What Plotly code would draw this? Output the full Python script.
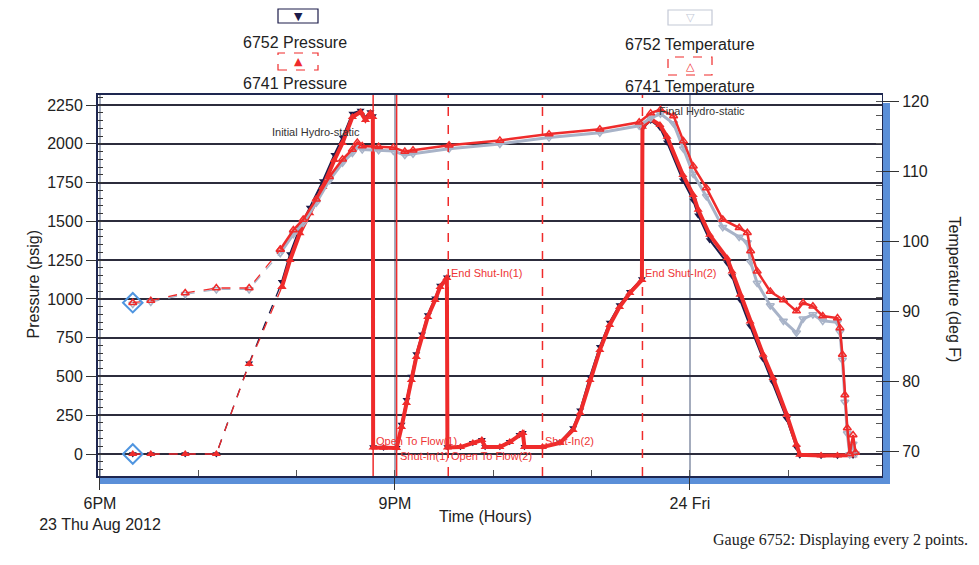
import plotly.graph_objects as go

# ---------------- data ----------------
p_time = [
    "2012-08-23 18:20", "2012-08-23 18:31", "2012-08-23 18:52", "2012-08-23 19:11",
    "2012-08-23 19:31", "2012-08-23 19:51", "2012-08-23 19:56", "2012-08-23 20:02",
    "2012-08-23 20:08", "2012-08-23 20:16", "2012-08-23 20:23", "2012-08-23 20:28",
    "2012-08-23 20:34", "2012-08-23 20:39", "2012-08-23 20:42", "2012-08-23 20:45",
    "2012-08-23 20:46:30", "2012-08-23 20:46:40", "2012-08-23 20:53", "2012-08-23 21:01",
    "2012-08-23 21:04", "2012-08-23 21:07", "2012-08-23 21:10", "2012-08-23 21:13",
    "2012-08-23 21:16:30", "2012-08-23 21:20", "2012-08-23 21:24:30", "2012-08-23 21:27:30",
    "2012-08-23 21:31:40", "2012-08-23 21:32", "2012-08-23 21:40", "2012-08-23 21:47:30",
    "2012-08-23 21:53", "2012-08-23 21:55", "2012-08-23 22:04", "2012-08-23 22:10",
    "2012-08-23 22:16", "2012-08-23 22:18", "2012-08-23 22:19", "2012-08-23 22:30",
    "2012-08-23 22:40:40", "2012-08-23 22:48:40", "2012-08-23 22:53", "2012-08-23 22:59",
    "2012-08-23 23:05", "2012-08-23 23:11", "2012-08-23 23:17", "2012-08-23 23:23:20",
    "2012-08-23 23:30:40", "2012-08-23 23:31", "2012-08-23 23:36", "2012-08-23 23:41:40",
    "2012-08-23 23:46", "2012-08-23 23:55:40", "2012-08-24 00:02", "2012-08-24 00:05",
    "2012-08-24 00:12", "2012-08-24 00:22:40", "2012-08-24 00:25:40", "2012-08-24 00:30:30",
    "2012-08-24 00:36:40", "2012-08-24 00:44:40", "2012-08-24 00:50:40", "2012-08-24 00:59",
    "2012-08-24 01:05", "2012-08-24 01:07", "2012-08-24 01:20", "2012-08-24 01:30",
    "2012-08-24 01:39:30",
]
p_6741 = [
    0, 0, 0, 0,
    580, 1077, 1251, 1424,
    1553, 1721, 1895, 2005,
    2173, 2205, 2153, 2198,
    2173, 42, 40, 39,
    174, 329, 477, 625,
    754, 883, 993, 1077,
    1135, 42, 45, 71,
    90, 45, 45, 77,
    122, 135, 45, 45,
    71, 155, 264, 477,
    671, 832, 948, 1038,
    1122, 2110, 2160, 2121,
    2046, 1799, 1670, 1574,
    1413, 1262, 1177, 1026,
    855, 640, 490, 253,
    60, -5, -10, -10,
    -8,
]
p_6752 = [
    0, 0, 0, 0,
    585, 1110, 1290, 1460,
    1590, 1760, 1930, 2040,
    2195, 2215, 2170, 2205,
    2180, 45, 42, 40,
    190, 350, 500, 645,
    772, 897, 1005, 1086,
    1140, 45, 47, 73,
    92, 47, 47, 79,
    124, 137, 47, 47,
    75, 168, 282, 497,
    692, 848, 960, 1046,
    1128, 2100, 2150, 2105,
    2010, 1765, 1635, 1540,
    1380, 1232, 1148, 995,
    825, 612, 462, 228,
    42, -8, -12, -12,
    -10,
]

t_time = [
    "2012-08-23 18:20", "2012-08-23 18:31", "2012-08-23 18:52", "2012-08-23 19:11",
    "2012-08-23 19:31", "2012-08-23 19:50", "2012-08-23 19:58", "2012-08-23 20:04",
    "2012-08-23 20:12", "2012-08-23 20:20", "2012-08-23 20:28", "2012-08-23 20:34",
    "2012-08-23 20:37", "2012-08-23 20:40", "2012-08-23 20:50", "2012-08-23 20:59",
    "2012-08-23 21:06", "2012-08-23 21:11", "2012-08-23 21:33", "2012-08-23 22:04",
    "2012-08-23 22:34", "2012-08-23 23:05", "2012-08-23 23:29", "2012-08-23 23:36",
    "2012-08-23 23:42", "2012-08-23 23:50", "2012-08-23 23:56", "2012-08-24 00:02",
    "2012-08-24 00:10", "2012-08-24 00:20", "2012-08-24 00:30", "2012-08-24 00:35",
    "2012-08-24 00:37", "2012-08-24 00:41", "2012-08-24 00:49", "2012-08-24 00:57",
    "2012-08-24 01:05", "2012-08-24 01:09", "2012-08-24 01:15", "2012-08-24 01:21",
    "2012-08-24 01:30", "2012-08-24 01:31:30", "2012-08-24 01:33", "2012-08-24 01:34:30",
    "2012-08-24 01:36", "2012-08-24 01:37:30", "2012-08-24 01:39:30", "2012-08-24 01:41",
]
t_6741 = [
    91.2, 91.5, 92.6, 93.3,
    93.3, 98.8, 101.6, 103.1,
    106.0, 109.2, 111.7, 113.1,
    114.1, 113.6, 113.5, 113.4,
    112.8, 113.0, 113.7, 114.4,
    115.3, 116.0, 117.0, 118.3,
    118.8, 117.9, 114.3, 110.7,
    107.6, 103.1, 101.9, 101.2,
    98.6, 95.7, 92.8, 91.6,
    90.0, 91.2, 90.7, 89.3,
    89.0, 87.6, 83.8, 78.0,
    73.3, 69.6, 72.3, 69.8,
]
t_6752 = [
    91.0, 91.3, 92.4, 93.1,
    93.1, 98.3, 101.0, 102.6,
    105.5, 108.7, 111.2, 112.6,
    113.6, 113.1, 113.0, 112.9,
    112.3, 112.5, 113.2, 113.9,
    114.8, 115.5, 116.5, 117.6,
    118.2, 116.8, 113.2, 109.6,
    106.4, 102.0, 100.6, 99.8,
    97.0, 94.0, 90.8, 88.6,
    86.9, 88.9, 89.5, 88.6,
    88.4, 87.0, 83.0, 77.0,
    72.5, 69.5, 71.0, 69.6,
]
# the first readings are sparse (surface / running in) and drawn with a thin dashed line
N_SPARSE_P = 6
N_SPARSE_T = 6

event_times = ["2012-08-23 20:46:40", "2012-08-23 21:01", "2012-08-23 21:32:30",
               "2012-08-23 22:30", "2012-08-23 23:31"]
event_dash = ["solid", "solid", "dash", "dash", "dash"]

label_text = ["Open To Flow(1)", "Shut-In(1)", "End Shut-In(1)", "Open To Flow(2)",
              "Shut-In(2)", "End Shut-In(2)"]
label_event = [0, 1, 2, 2, 3, 4]
label_psi = [84, -13, 1167, -13, 84, 1167]

hydro_text = ["Initial Hydro-static", "Final Hydro-static"]
hydro_time = ["2012-08-23 20:40", "2012-08-23 23:40"]
hydro_psi = [2076, 2211]

x_tickvals = ["2012-08-23 18:00", "2012-08-23 21:00", "2012-08-24 00:00"]
x_ticktext = ["6PM<br>23 Thu Aug 2012", "9PM", "24 Fri"]

# ---------------- layout helpers ----------------
W, H = 979, 565
OFF = 8                          # page body margin
L, R, T, B = 98, 882, 95, 476    # plot area in screenshot pixels


def px(x):
    return (x - L) / (R - L)


def py(y):
    return (B - y) / (B - T)


RED = "#ef2b2b"
NAVY = "#1c1c4a"
GREY = "#a8b3c8"
FONT = "Liberation Sans, Arial, sans-serif"

fig = go.Figure()


def add_series(xs, ys, n_sparse, color, lw, sym, msize, axis, mline=0):
    common = dict(yaxis=axis, mode="lines+markers", showlegend=False)
    fig.add_trace(go.Scatter(
        x=xs[:n_sparse], y=ys[:n_sparse], **common,
        line=dict(color=color, width=1.3, dash="dash"),
        marker=dict(symbol=sym, size=msize, color=color, line=dict(width=mline)),
    ))
    fig.add_trace(go.Scatter(
        x=xs[n_sparse - 1:], y=ys[n_sparse - 1:], **common,
        line=dict(color=color, width=lw),
        marker=dict(symbol=sym, size=msize, color=color, line=dict(width=mline)),
    ))


add_series(t_time, t_6752, N_SPARSE_T, GREY, 3, "triangle-down-open", 7, "y2", 1.5)
add_series(t_time, t_6741, N_SPARSE_T, RED, 2.5, "triangle-up-open", 7, "y2", 1.5)
add_series(p_time, p_6752, N_SPARSE_P, NAVY, 2, "triangle-down", 7, "y")
add_series(p_time, p_6741, N_SPARSE_P, RED, 4, "triangle-up", 8, "y")

# first-point diamonds
fig.add_trace(go.Scatter(
    x=[p_time[0]], y=[p_6741[0]], mode="markers", showlegend=False,
    marker=dict(symbol="diamond-open", size=15, color="#4f95e0", line=dict(width=2)),
))
fig.add_trace(go.Scatter(
    x=[t_time[0]], y=[t_6741[0]], yaxis="y2", mode="markers", showlegend=False,
    marker=dict(symbol="diamond-open", size=15, color="#4f95e0", line=dict(width=2)),
))

shapes = []
for et, ed in zip(event_times, event_dash):
    shapes.append(dict(type="line", xref="x", yref="paper", x0=et, x1=et, y0=0, y1=1,
                       line=dict(color=RED, width=1.5, dash=ed), layer="above"))
shapes.append(dict(type="rect", xref="paper", yref="paper", x0=px(R), x1=px(R + 8),
                   y0=py(B + 8), y1=py(T + 8), fillcolor="#5b8fd8", line=dict(width=0),
                   layer="below"))
shapes.append(dict(type="rect", xref="paper", yref="paper", x0=px(L + 2), x1=px(R + 8),
                   y0=py(B + 8), y1=py(B), fillcolor="#5b8fd8", line=dict(width=0),
                   layer="below"))
box_specs = [
    (278, 318, 9, 23, NAVY, "solid"),
    (278, 318, 53, 70, RED, "dash"),
    (668, 712, 10, 25, "#c4c9d6", "solid"),
    (668, 712, 57, 75, RED, "dash"),
]
for x0, x1, y0, y1, c, d in box_specs:
    shapes.append(dict(type="rect", xref="paper", yref="paper", x0=px(x0), x1=px(x1),
                       y0=py(y1), y1=py(y0), line=dict(color=c, width=1.2, dash=d)))

ann = []
for txt, ei, ps in zip(label_text, label_event, label_psi):
    ann.append(dict(x=event_times[ei], y=ps, xref="x", yref="y", text=txt, showarrow=False,
                    xanchor="left", yanchor="middle", xshift=1,
                    font=dict(family=FONT, size=11, color="#ee3535")))
ann.append(dict(x=hydro_time[0], y=hydro_psi[0], xref="x", yref="y", text=hydro_text[0],
                showarrow=False, xanchor="right", yanchor="middle",
                font=dict(family=FONT, size=11, color="#333")))
ann.append(dict(x=hydro_time[1], y=hydro_psi[1], xref="x", yref="y", text=hydro_text[1],
                showarrow=False, xanchor="left", yanchor="middle",
                font=dict(family=FONT, size=11, color="#333")))

legend_items = [
    ("▼", 298, 16, NAVY, 11), ("▲", 298, 62, RED, 11),
    ("▽", 690, 17.5, "#c4c9d6", 11), ("△", 690, 66, RED, 11),
]
for s, x, y, c, fs in legend_items:
    ann.append(dict(x=px(x), y=py(y), xref="paper", yref="paper", text=s, showarrow=False,
                    xanchor="center", yanchor="middle",
                    font=dict(family="DejaVu Sans", size=fs, color=c)))
legend_texts = [("6752 Pressure", 295, 42), ("6741 Pressure", 295, 84),
                ("6752 Temperature", 690, 44), ("6741 Temperature", 690, 86)]
for t, x, y in legend_texts:
    ann.append(dict(x=px(x), y=py(y), xref="paper", yref="paper", text=t, showarrow=False,
                    xanchor="center", yanchor="middle",
                    font=dict(family=FONT, size=16, color="#222")))

ann.append(dict(x=px(22), y=py(285), xref="paper", yref="paper", text="Pressure (psig)",
                showarrow=False, textangle=-90, font=dict(family=FONT, size=16, color="#222")))
ann.append(dict(x=px(965), y=py(290), xref="paper", yref="paper", text="Temperature (deg F)",
                showarrow=False, textangle=90, font=dict(family=FONT, size=16, color="#222")))
ann.append(dict(x=px(485), y=py(527), xref="paper", yref="paper", text="Time (Hours)",
                showarrow=False, font=dict(family=FONT, size=16, color="#222")))
ann.append(dict(x=px(970), y=py(551), xref="paper", yref="paper",
                text="Gauge 6752: Displaying every 2 points.", showarrow=False,
                xanchor="right", font=dict(family="Liberation Serif, serif", size=16, color="#222")))

fig.update_layout(
    width=W, height=H,
    margin=dict(l=L - OFF, r=W - (R - OFF), t=T - OFF, b=H - (B - OFF)),
    paper_bgcolor="white", plot_bgcolor="white",
    showlegend=False,
    font=dict(family=FONT, size=16, color="#222"),
    shapes=shapes, annotations=ann,
    xaxis=dict(
        type="date", range=["2012-08-23 17:58:47", "2012-08-24 01:57:10"],
        tickvals=x_tickvals, ticktext=x_ticktext,
        showgrid=True, gridcolor="#a4acbd", gridwidth=1.5,
        ticks="outside", ticklen=12, tickcolor="#333", tickwidth=1.2,
        showline=True, linecolor="#1e2750", linewidth=2, mirror=True,
        zeroline=False,
        minor=dict(dtick=3600000, tick0="2012-08-23 18:00", ticks="inside", ticklen=6,
                   tickcolor="#555", showgrid=False),
        tickfont=dict(size=16),
    ),
    yaxis=dict(
        range=[-141.8, 2314.6], tickvals=list(range(0, 2251, 250)),
        showgrid=True, gridcolor="#2c2c3c", gridwidth=1.6, zeroline=False,
        ticks="outside", ticklen=10, tickcolor="#333",
        showline=True, linecolor="#1e2750", linewidth=2,
        minor=dict(dtick=50, tick0=0, ticks="inside", ticklen=5, tickcolor="#333",
                   showgrid=False),
        tickfont=dict(size=16),
    ),
    yaxis2=dict(
        range=[66.43, 120.89], overlaying="y", side="right", dtick=10, tick0=70,
        showgrid=False, zeroline=False,
        ticks="outside", ticklen=16, tickcolor="#333",
        showline=True, linecolor="#1e2750", linewidth=1,
        minor=dict(dtick=2, tick0=70, ticks="inside", ticklen=6, tickcolor="#555",
                   showgrid=False),
        tickfont=dict(size=16),
    ),
)

fig.write_html("out.html")
